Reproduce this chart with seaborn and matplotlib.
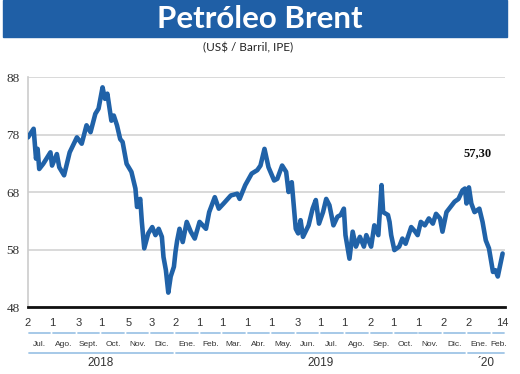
import pandas as pd
import matplotlib.pyplot as plt
import matplotlib.transforms as mtransforms
from matplotlib.patches import Rectangle
import seaborn as sns

# Brent daily price (US$ / barril)
fechas = [
    "2018-07-02", "2018-07-09", "2018-07-12", "2018-07-14", "2018-07-16", "2018-07-21",
    "2018-07-30", "2018-08-01", "2018-08-07", "2018-08-10", "2018-08-16", "2018-08-23",
    "2018-09-01", "2018-09-07", "2018-09-13", "2018-09-18", "2018-09-24", "2018-09-28",
    "2018-10-03", "2018-10-06", "2018-10-09", "2018-10-14", "2018-10-17", "2018-10-21",
    "2018-10-25", "2018-10-28", "2018-11-02", "2018-11-08", "2018-11-13", "2018-11-15",
    "2018-11-19", "2018-11-21", "2018-11-24", "2018-11-29", "2018-12-04", "2018-12-08",
    "2018-12-12", "2018-12-16", "2018-12-18", "2018-12-21", "2018-12-24", "2018-12-27",
    "2018-12-31", "2019-01-02", "2019-01-04", "2019-01-07", "2019-01-11", "2019-01-16",
    "2019-01-21", "2019-01-26", "2019-02-01", "2019-02-05", "2019-02-09", "2019-02-13",
    "2019-02-20", "2019-02-25", "2019-03-03", "2019-03-12", "2019-03-20", "2019-03-23",
    "2019-03-30", "2019-04-07", "2019-04-14", "2019-04-18", "2019-04-23", "2019-04-28",
    "2019-05-05", "2019-05-09", "2019-05-15", "2019-05-20", "2019-05-23", "2019-05-27",
    "2019-06-01", "2019-06-04", "2019-06-07", "2019-06-10", "2019-06-17", "2019-06-22",
    "2019-06-26", "2019-06-30", "2019-07-05", "2019-07-09", "2019-07-13", "2019-07-18",
    "2019-07-23", "2019-07-27", "2019-07-31", "2019-08-02", "2019-08-07", "2019-08-11",
    "2019-08-15", "2019-08-20", "2019-08-25", "2019-08-28", "2019-09-03", "2019-09-07",
    "2019-09-12", "2019-09-16", "2019-09-18", "2019-09-24", "2019-09-26", "2019-09-28",
    "2019-10-02", "2019-10-08", "2019-10-12", "2019-10-16", "2019-10-23", "2019-10-28",
    "2019-10-31", "2019-11-04", "2019-11-09", "2019-11-14", "2019-11-19", "2019-11-23",
    "2019-11-28", "2019-12-01", "2019-12-06", "2019-12-11", "2019-12-16", "2019-12-21",
    "2019-12-26", "2019-12-29", "2019-12-31", "2020-01-03", "2020-01-06", "2020-01-10",
    "2020-01-16", "2020-01-20", "2020-01-24", "2020-01-28", "2020-02-02", "2020-02-05",
    "2020-02-08", "2020-02-11", "2020-02-14",
]
precios = [
    77.5, 79.0, 73.8, 75.5, 72.0, 72.9,
    74.9, 72.6, 74.6, 72.3, 70.9, 74.9,
    77.5, 76.4, 79.6, 78.4, 81.6, 82.5,
    86.2, 84.2, 85.1, 80.4, 81.3, 79.6,
    77.2, 76.7, 72.9, 71.5, 68.6, 65.4,
    66.8, 62.8, 58.2, 60.8, 61.9, 60.5,
    61.6, 60.2, 56.7, 54.4, 50.5, 53.3,
    55.0, 57.6, 59.5, 61.6, 59.3, 62.8,
    61.1, 59.9, 62.8, 62.2, 61.6, 64.5,
    67.1, 65.1, 66.0, 67.4, 67.7, 66.8,
    69.2, 71.2, 71.8, 72.6, 75.5, 72.3,
    70.0, 70.3, 72.6, 71.5, 68.0, 69.7,
    61.6, 60.8, 63.1, 60.2, 62.2, 65.1,
    66.6, 62.5, 64.5, 66.8, 65.7, 62.2,
    63.7, 64.0, 65.1, 60.5, 56.4, 61.1,
    58.5, 60.2, 58.5, 60.5, 58.5, 62.2,
    60.5, 69.2, 64.5, 64.0, 62.8, 60.5,
    57.9, 58.5, 59.9, 59.0, 61.9, 61.1,
    60.5, 62.8, 62.2, 63.4, 62.5, 64.2,
    63.4, 61.1, 64.5, 65.4, 66.3, 66.8,
    68.3, 68.6, 66.0, 68.8, 66.0, 64.5,
    65.1, 62.8, 59.6, 58.2, 54.1, 54.4,
    53.3, 55.3, 57.3,
]

# first trading day shown under each month
dias_tick = [
    "2018-07-02", "2018-08-01", "2018-09-03", "2018-10-01", "2018-11-05", "2018-12-03",
    "2019-01-02", "2019-02-01", "2019-03-01", "2019-04-01", "2019-05-01", "2019-06-03",
    "2019-07-01", "2019-08-01", "2019-09-02", "2019-10-01", "2019-11-01", "2019-12-02",
    "2020-01-02", "2020-02-14",
]
meses = ["Jul.", "Ago.", "Sept.", "Oct.", "Nov.", "Dic.",
         "Ene.", "Feb.", "Mar.", "Abr.", "May.", "Jun.", "Jul.", "Ago.", "Sep.", "Oct.", "Nov.", "Dic.",
         "Ene.", "Feb."]
anios = ["2018", "2019", "´20"]
yticks = [48, 58, 68, 78, 88]

df = pd.DataFrame({"fecha": pd.to_datetime(fechas), "precio": precios})
inicio = df["fecha"].iloc[0]
fin = df["fecha"].iloc[-1]

azul = "#2062a8"
celeste = "#9fc5e6"

sns.set_style("white")
fig = plt.figure(figsize=(5.2, 3.74), dpi=100)

# title band
fig.patches.append(Rectangle((3 / 520, 1 - 37 / 374), 504 / 520, 37 / 374,
                             transform=fig.transFigure, color="#1f5fa6", zorder=0))
fig.text(0.5, 1 - 19 / 374, "Petróleo Brent", color="white", fontsize=22.5,
         fontweight="bold", family="Lato", ha="center", va="center")
fig.text(0.477, 1 - 48 / 374, "(US$ / Barril, IPE)", color="#222222", fontsize=8.5,
         family="Lato", ha="center", va="center")

ax = fig.add_axes([28 / 520, 1 - 307 / 374, 477 / 520, 230 / 374])
sns.lineplot(data=df, x="fecha", y="precio", ax=ax, color=azul, linewidth=3.3, zorder=3)

ax.set_ylim(48, 88)
ax.set_xlim(inicio, fin + pd.Timedelta(days=3))
ax.set_yticks(yticks)
ax.set_yticklabels([str(v) for v in yticks], family="Liberation Serif", fontsize=9.5, color="#333333")
ax.grid(axis="y", color="#d9d9d9", linewidth=1.4)
ax.grid(axis="x", visible=False)
ax.set_xlabel("")
ax.set_ylabel("")
for s in ["top", "right"]:
    ax.spines[s].set_visible(False)
ax.spines["left"].set_color("#cccccc")
ax.spines["left"].set_linewidth(1.2)
ax.spines["bottom"].set_color("#111111")
ax.spines["bottom"].set_linewidth(2)
ax.spines["bottom"].set_zorder(4)

ticks = pd.to_datetime(dias_tick)
ax.set_xticks(ticks)
ax.set_xticklabels([str(d.day) for d in ticks], family="Liberation Sans", fontsize=8, color="#333333")
ax.tick_params(axis="both", length=0)
ax.tick_params(axis="x", pad=8)
ax.tick_params(axis="y", pad=6)

# month and year bands under the axis
tr = mtransforms.blended_transform_factory(ax.transData, ax.transAxes)
gap = pd.Timedelta(days=1.3)
inicios_mes = pd.date_range("2018-07-01", "2020-02-01", freq="MS")
for m, nombre in zip(inicios_mes, meses):
    a = max(m, inicio)
    b = min(m + pd.offsets.MonthEnd(0), fin + pd.Timedelta(days=3))
    ax.plot([a + gap, b - gap], [-0.113, -0.113], transform=tr, color=celeste,
            linewidth=1.3, clip_on=False)
    ax.text(a + (b - a) / 2, -0.165, nombre, transform=tr, ha="center", va="center",
            fontsize=6, family="Liberation Sans", color="#333333")

limites = [(inicio, pd.Timestamp("2018-12-31")),
           (pd.Timestamp("2019-01-01"), pd.Timestamp("2019-12-31")),
           (pd.Timestamp("2020-01-01"), fin + pd.Timedelta(days=3))]
for (a, b), nombre in zip(limites, anios):
    ax.plot([a + gap, b - gap], [-0.2, -0.2], transform=tr, color=celeste,
            linewidth=1.3, clip_on=False)
    ax.text(a + (b - a) / 2, -0.245, nombre, transform=tr, ha="center", va="center",
            fontsize=8.5, family="Liberation Sans", color="#333333")

# last value label
ultimo = f"{precios[-1]:.2f}".replace(".", ",")
ax.annotate(ultimo, xy=(fin, precios[-1]), xytext=(-18, 72), textcoords="offset points",
            ha="center", va="center", fontsize=9, fontweight="bold",
            family="Liberation Serif", color="#111111")

fig.savefig("out.png", dpi=100)
